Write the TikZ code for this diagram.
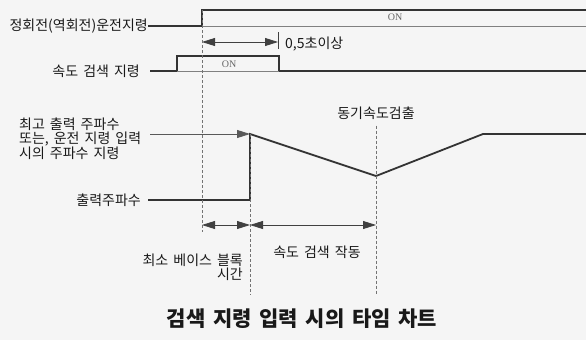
\documentclass[tikz,border=0pt]{standalone}
\usepackage{fontspec}
\setmainfont{Noto Sans CJK KR}[WordSpace=1.6]
\newfontfamily\onfont{Liberation Serif}
\usetikzlibrary{arrows.meta, positioning, calc}

\begin{document}
\begin{tikzpicture}[x=1pt, y=-1pt, font=\fontsize{14}{13.5}\selectfont,
          lbl/.style={inner sep=0pt, anchor=east, text=black!90},
          onlbl/.style={inner sep=0pt, font=\onfont\fontsize{10}{10}\selectfont, text=black!60},
          sig/.style={line width=1.8pt, draw=black!80},
          thinline/.style={line width=0.8pt, draw=black!50},
          guide/.style={dash pattern=on 3pt off 2pt, line width=0.7pt, draw=black!55},
          arrow/.style={{Triangle[length=13pt,width=8pt]}-{Triangle[length=13pt,width=8pt]}, line width=0.8pt, draw=black!75},
          arrowone/.style={-{Triangle[length=13pt,width=8pt]}, line width=0.8pt, draw=black!65}]
        \fill [black!4] (0,0) rectangle (586,340);
        \useasboundingbox (0,0) rectangle (586,340);

        % run command
        \node [lbl] (runlbl) at (148,26) {정회전(역회전)운전지령};
        \coordinate (r1) at (202,26);
        \coordinate (r2) at (202,10);
        \coordinate (r3) at (586,10);
        \coordinate (r4) at (586,26);
        \draw [sig] (runlbl.east) -- (r1) -- (r2) -- (r3);
        \draw [thinline] (r1) -- (r4);
        \node [onlbl] (on1) at (395,17) {ON};

        % speed search command
        \node [lbl] (srchlbl) at (140,71) {속도 검색 지령};
        \coordinate (s0) at (150,71);
        \coordinate (s1) at (177,71);
        \coordinate (s2) at (177,56);
        \coordinate (s3) at (279,56);
        \coordinate (s4) at (279,71);
        \coordinate (s5) at (586,71);
        \draw [sig] (s0) -- (s1) -- (s2) -- (s3) -- (s4) -- (s5);
        \draw [thinline] (s1) -- (s4);
        \node [onlbl] (on2) at (229,64) {ON};

        % 0.5 s
        \coordinate (t0) at (202,42);
        \coordinate (t1) at (278,42);
        \draw [arrow] (t0) -- (t1);
        \draw [line width=0.8pt, black!75] ($(t1)+(0,-10)$) -- ($(t1)+(0,7)$);
        \node [lbl, anchor=west] (tlbl) at (285,44) {0,5초이상};

        % output frequency
        \node [lbl, anchor=west, align=left] (maxlbl) at (19,139)
          {최고 출력 주파수\\또는, 운전 지령 입력\\시의 주파수 지령};
        \node [lbl] (outlbl) at (141,200) {출력주파수};
        \coordinate (f0) at (150,134);
        \coordinate (o0) at (148,200);
        \coordinate (o1) at (250,200);
        \coordinate (o2) at (250,134);
        \coordinate (o3) at (376,176);
        \coordinate (o4) at (483,134);
        \coordinate (o5) at (586,134);
        \draw [arrowone] (f0) -- (o2);
        \draw [sig, line join=miter] (o0) -- (o1) -- (o2) -- (o3) -- (o4) -- (o5);
        \node [lbl, anchor=center] (synlbl) at (376,113) {동기속도검출};

        % guides
        \draw [guide] (r2) -- (202,232);
        \draw [guide] (o2) -- (250,295);
        \draw [guide] (synlbl.south) ++(0,6) -- (376,295);

        % bottom spans
        \coordinate (b0) at (202,225);
        \coordinate (b1) at (250,225);
        \coordinate (b2) at (376,225);
        \draw [arrow] (b0) -- (b1);
        \draw [arrow] (b1) -- (b2);
        \node [lbl, anchor=north east, align=right] (bblbl) at (243,254) {최소 베이스 블록\\시간};
        \node [lbl, anchor=center] (actlbl) at (317,252) {속도 검색 작동};

        \node [lbl, anchor=center, font=\bfseries\fontsize{21}{22}\selectfont] (title) at (302,319)
          {검색 지령 입력 시의 타임 차트};
\end{tikzpicture}
\end{document}
